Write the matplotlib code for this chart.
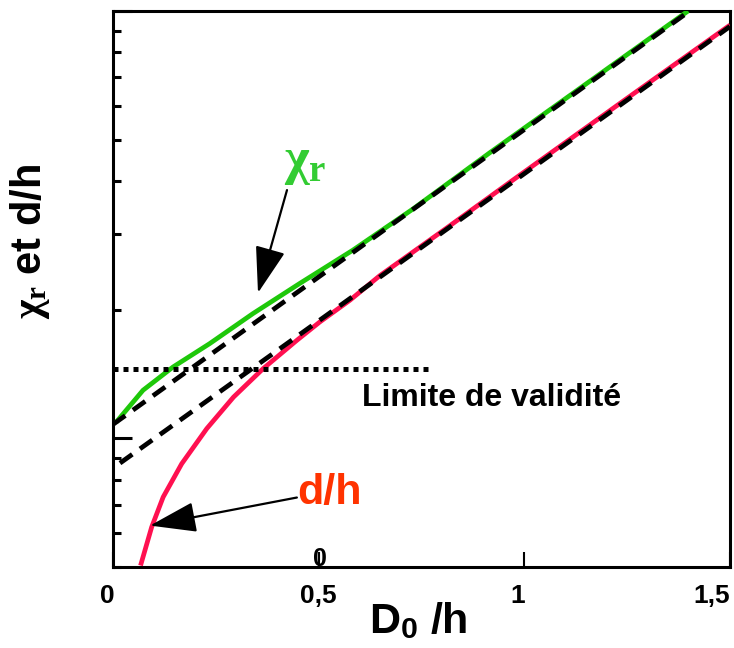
import matplotlib
matplotlib.use("Agg")
import matplotlib.pyplot as plt
import matplotlib.transforms as mtransforms
from matplotlib.ticker import LogLocator, NullFormatter, FixedLocator

plt.rcParams['font.family'] = ['Liberation Sans', 'DejaVu Sans']
plt.rcParams['font.weight'] = 'bold'
plt.rcParams['mathtext.fontset'] = 'custom'
plt.rcParams['mathtext.rm'] = 'Liberation Serif:bold'
plt.rcParams['mathtext.it'] = 'Liberation Serif:bold'
plt.rcParams['mathtext.bf'] = 'Liberation Serif:bold'
plt.rcParams['mathtext.sf'] = 'Liberation Sans:bold'

# ---- data ----
x_chi = [0.008, 0.073, 0.146, 0.235, 0.340, 0.454, 0.583, 0.729, 0.916, 1.15, 1.398]
y_chi = [1.092, 1.296, 1.469, 1.666, 1.958, 2.304, 2.756, 3.44, 4.66, 6.75, 10.0]

x_dh = [0.067, 0.094, 0.122, 0.167, 0.228, 0.293, 0.365, 0.447, 0.503,
        0.576, 0.648, 0.810, 0.972, 1.25, 1.50]
y_dh = [0.504, 0.620, 0.729, 0.872, 1.054, 1.249, 1.456, 1.696, 1.873,
        2.105, 2.40, 3.10, 4.02, 6.25, 9.27]

x_chi_fit = [0.0, 1.402]
y_chi_fit = [1.078, 10.0]

x_dh_fit = [0.017, 1.5]
y_dh_fit = [0.875, 9.2]

x_limit = [0.0, 0.778]
y_limit = [1.45, 1.45]

x_ticks = [0, 0.5, 1, 1.5]
x_ticklabels = ['0', '0,5', '1', '1,5']
x_label_shift_px = [-6, 0, -7, -18]

fig = plt.figure(figsize=(7.34, 6.48), dpi=100)
ax = fig.add_axes([113/734, 1 - 567/648, (730-113)/734, (567-11)/648])

green = '#1ec80a'
red = '#ff1050'

ax.plot(x_chi, y_chi, color=green, lw=3.4, solid_capstyle='butt', zorder=3)
ax.plot(x_dh, y_dh, color=red, lw=3.4, solid_capstyle='butt', zorder=3)
ax.plot(x_chi_fit, y_chi_fit, color='black', lw=3.4, dashes=(3.2, 2.0), zorder=4)
ax.plot(x_dh_fit, y_dh_fit, color='black', lw=3.4, dashes=(3.2, 2.0), zorder=4)
ax.plot(x_limit, y_limit, color='black', lw=3.6, dashes=(1, 1.0), dash_capstyle='butt', zorder=4)

ax.set_yscale('log')
ax.set_xlim(0, 1.5)
ax.set_ylim(0.5, 10)

ax.yaxis.set_major_locator(FixedLocator([1, 10]))
ax.yaxis.set_minor_locator(LogLocator(base=10, subs=[2, 3, 4, 5, 6, 7, 8, 9]))
ax.yaxis.set_major_formatter(NullFormatter())
ax.yaxis.set_minor_formatter(NullFormatter())
ax.tick_params(axis='y', which='major', direction='in', length=14, width=2.2)
ax.tick_params(axis='y', which='minor', direction='in', length=6, width=2.2)

ax.set_xticks(x_ticks)
ax.set_xticklabels(x_ticklabels)
ax.tick_params(axis='x', direction='in', length=11, width=1.5, labelsize=19, pad=12)
for lab, dx in zip(ax.get_xticklabels(), x_label_shift_px):
    off = mtransforms.ScaledTranslation(dx/100, 0, fig.dpi_scale_trans)
    lab.set_transform(lab.get_transform() + off)
    lab.set_fontweight('bold')

for sp in ax.spines.values():
    sp.set_linewidth(2.2)

# annotations
arrow_kw = dict(arrowstyle='-|>,head_length=2.9,head_width=0.95', color='black',
                lw=1.6, shrinkA=0, shrinkB=0, mutation_scale=10)
ax.annotate('', xy=(0.3525, 2.19), xytext=(0.423, 3.81), arrowprops=arrow_kw, zorder=5)
ax.annotate('', xy=(0.09, 0.625), xytext=(0.447, 0.727), arrowprops=arrow_kw, zorder=5)

ax.text(0.466, 4.43, r'$\chi_{\mathrm{r}}$', color='#33cc33', fontsize=38,
        ha='center', va='center')
ax.text(0.447, 0.745, 'd/h', color='#ff3300', fontsize=31, fontweight='bold',
        ha='left', va='center')
ax.text(0.605, 1.24, 'Limite de validité', color='black', fontsize=23,
        fontweight='bold', ha='left', va='center')
ax.text(0.503, 0.522, '0', color='black', fontsize=18, fontweight='bold',
        ha='center', va='center')

fig.text(30/734, 1 - 241/648, r'$\chi_{\mathrm{r}}$ et d/h', rotation=90,
         fontsize=30, fontweight='bold', ha='center', va='center')
fig.text(418/734, 1 - 622/648, r'D$_{\mathsf{0}}$ /h', fontsize=31,
         fontweight='bold', ha='center', va='center')

fig.savefig('out.png', dpi=100)
